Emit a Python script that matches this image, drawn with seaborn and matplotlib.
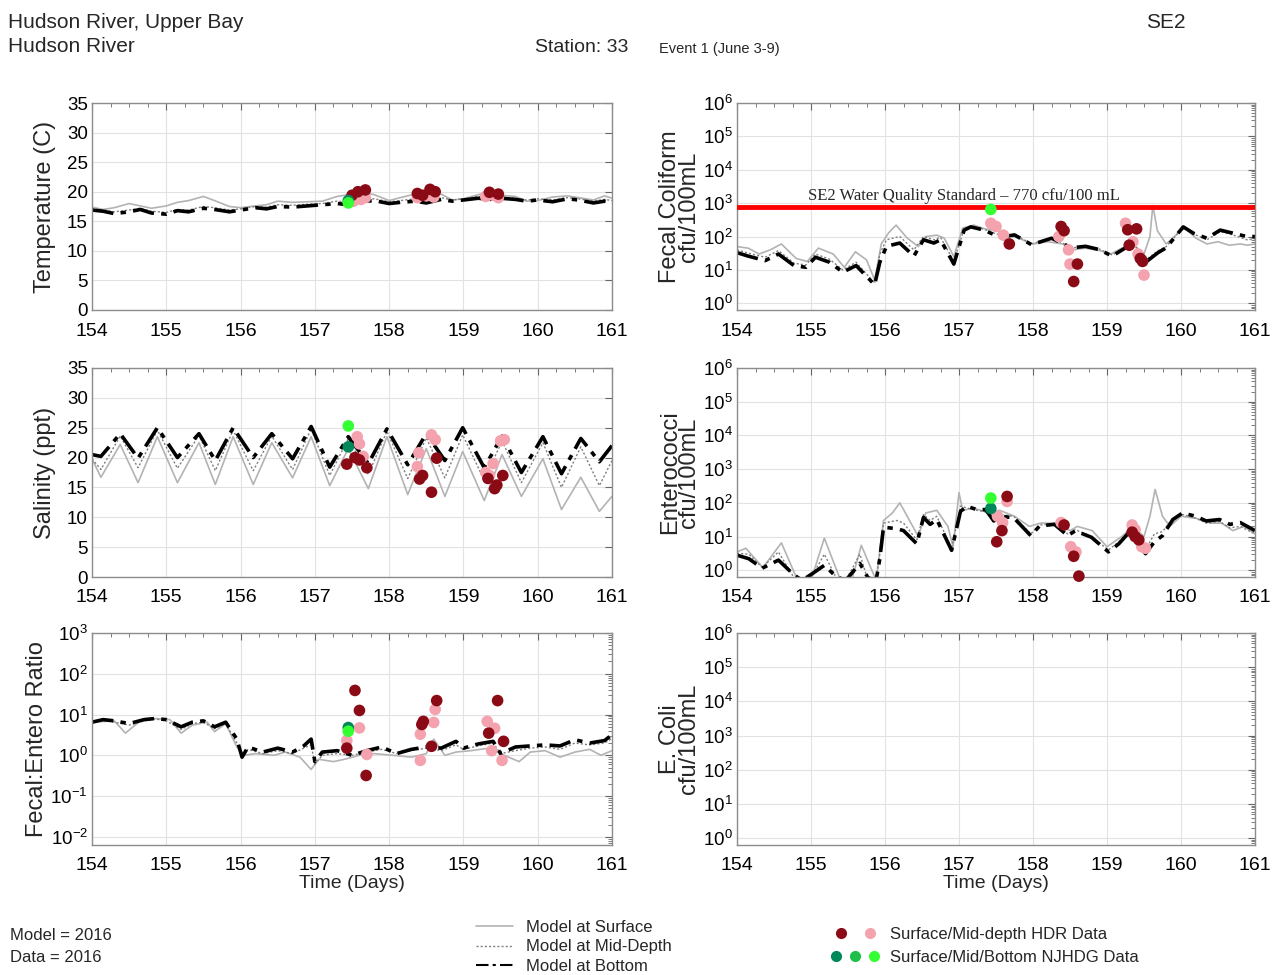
import numpy as np
import pandas as pd
import matplotlib
matplotlib.use("Agg")
import matplotlib.pyplot as plt
import seaborn as sns
from matplotlib.lines import Line2D
from matplotlib.legend_handler import HandlerTuple
from matplotlib.ticker import MultipleLocator, LogLocator, NullFormatter

# ---------------- model output: temperature ----------------
t_temp = [154.0, 154.15, 154.3, 154.5, 154.65, 154.8, 155.0, 155.15, 155.3, 155.5, 155.65, 155.85,
          156.0, 156.2, 156.35, 156.5, 156.7, 156.9, 157.1, 157.3, 157.45, 157.6, 157.8, 158.0,
          158.15, 158.35, 158.5, 158.7, 158.85, 159.0, 159.2, 159.35, 159.5, 159.7, 159.85, 160.0,
          160.2, 160.4, 160.55, 160.75, 160.9, 161.0]
temp_surf = [17.4, 17.0, 17.3, 18.0, 17.6, 17.2, 17.6, 18.2, 18.5, 19.2, 18.5, 17.5,
             17.3, 17.6, 17.8, 18.4, 18.2, 18.3, 18.4, 19.2, 19.5, 20.0, 19.5, 18.5,
             19.0, 19.6, 20.0, 19.6, 18.6, 18.8, 19.5, 19.8, 19.4, 19.2, 18.4, 18.5,
             19.1, 19.3, 19.0, 18.6, 19.3, 18.9]
temp_mid = [17.1, 16.9, 16.6, 16.9, 17.2, 16.7, 16.5, 17.0, 16.9, 17.5, 17.3, 16.9,
            17.1, 17.5, 17.4, 17.8, 17.7, 17.9, 18.0, 18.4, 18.2, 18.6, 18.8, 18.3,
            18.5, 18.8, 18.4, 19.0, 18.6, 18.8, 19.2, 19.0, 19.1, 18.9, 18.6, 18.8,
            18.6, 19.0, 18.8, 18.4, 18.7, 18.5]
temp_bot = [16.9, 16.7, 16.3, 16.6, 17.0, 16.4, 16.2, 16.8, 16.6, 17.2, 17.0, 16.6,
            16.9, 17.3, 17.1, 17.5, 17.4, 17.6, 17.8, 18.0, 17.8, 18.3, 18.5, 18.0,
            18.2, 18.4, 18.1, 18.7, 18.4, 18.6, 18.9, 18.7, 18.9, 18.7, 18.4, 18.6,
            18.3, 18.8, 18.6, 18.1, 18.4, 18.2]

# ---------------- model output: salinity ----------------
t_sal = [154.0, 154.12, 154.38, 154.62, 154.88, 155.15, 155.44, 155.66, 155.9, 156.17, 156.42,
         156.7, 156.95, 157.2, 157.45, 157.72, 157.97, 158.25, 158.5, 158.75, 158.99, 159.28,
         159.52, 159.78, 160.07, 160.32, 160.58, 160.83, 161.0]
sal_surf = [19.8, 16.7, 22.2, 15.8, 23.5, 15.8, 22.5, 15.5, 23.5, 15.5, 22.5, 16.6, 23.5, 15.3,
            21.5, 14.8, 23.5, 13.8, 21.5, 13.5, 21.0, 12.8, 20.5, 13.5, 19.8, 11.3, 16.7, 11.0, 13.5]
sal_mid = [19.8, 18.0, 23.6, 18.3, 24.6, 18.2, 23.7, 17.8, 24.6, 17.8, 23.6, 18.0, 24.8, 17.0,
           23.2, 17.2, 24.4, 16.5, 23.3, 16.6, 23.8, 16.2, 22.8, 15.8, 22.5, 15.0, 21.8, 15.3, 19.5]
sal_bot = [20.5, 20.2, 24.0, 19.9, 25.0, 20.0, 24.0, 19.5, 25.0, 20.0, 24.0, 19.8, 25.2, 18.4,
           23.5, 19.0, 24.8, 18.8, 24.0, 19.5, 25.0, 18.3, 23.6, 17.5, 23.5, 17.3, 23.2, 19.3, 22.0]

# ---------------- model output: fecal coliform ----------------
t_fc_surf = [154.0, 154.15, 154.3, 154.45, 154.6, 154.8, 154.95, 155.1, 155.3, 155.45, 155.6, 155.75,
             155.86, 155.95, 156.05, 156.15, 156.3, 156.45, 156.55, 156.7, 156.8, 156.93, 157.05,
             157.2, 157.35, 157.5, 157.65, 157.8, 158.0, 158.2, 158.4, 158.55, 158.7, 158.9, 159.05,
             159.2, 159.35, 159.5, 159.58, 159.62, 159.68, 159.8, 159.95, 160.05, 160.2, 160.35,
             160.5, 160.65, 160.8, 160.9, 161.0]
fc_surf = [50, 45, 30, 40, 60, 22, 18, 45, 30, 12, 35, 20, 5, 60, 130, 220, 90, 50, 100, 110,
           90, 25, 180, 220, 170, 150, 110, 90, 60, 70, 60, 40, 45, 38, 30, 45, 55, 30, 100, 850,
           150, 60, 120, 180, 90, 60, 70, 55, 60, 55, 60]
t_fc = [154.0, 154.15, 154.38, 154.56, 154.77, 154.93, 155.06, 155.25, 155.43, 155.61, 155.86,
        155.93, 156.02, 156.2, 156.39, 156.52, 156.66, 156.75, 156.93, 157.07, 157.16, 157.34,
        157.48, 157.61, 157.75, 157.98, 158.25, 158.39, 158.52, 158.71, 158.89, 159.07, 159.25,
        159.37, 159.55, 159.69, 159.8, 160.03, 160.17, 160.35, 160.53, 160.71, 160.89, 161.0]
fc_mid = [40, 32, 24, 38, 16, 14, 30, 21, 10, 17, 4, 30, 80, 100, 40, 100, 80, 95, 18, 170,
          205, 165, 125, 105, 115, 60, 90, 66, 45, 52, 43, 28, 48, 55, 22, 38, 50, 190, 120, 80,
          140, 110, 80, 85]
fc_bot = [33, 26, 19, 30, 13.5, 12, 24, 17, 8.6, 13.5, 3.6, 17, 51, 64, 26, 80, 64, 80, 15, 156,
          195, 156, 112, 100, 112, 57, 89, 64, 46, 51, 41, 26, 46, 57, 19, 33, 46, 195, 125, 89,
          156, 125, 100, 100]

# ---------------- model output: enterococci ----------------
t_en_surf = [154.0, 154.12, 154.35, 154.6, 154.82, 155.0, 155.18, 155.4, 155.55, 155.68, 155.88,
             155.98, 156.1, 156.2, 156.3, 156.45, 156.55, 156.7, 156.85, 156.92, 157.0, 157.05,
             157.2, 157.4, 157.55, 157.75, 157.95, 158.1, 158.3, 158.5, 158.6, 158.8, 159.0,
             159.2, 159.35, 159.5, 159.58, 159.65, 159.75, 159.85, 160.0, 160.2, 160.4, 160.55,
             160.7, 160.85, 161.0]
en_surf = [3.5, 4.5, 1.2, 6.5, 0.5, 0.5, 9, 0.5, 0.5, 5.5, 0.5, 30, 50, 100, 40, 10, 50, 60, 20,
           5, 200, 60, 70, 50, 60, 40, 20, 25, 25, 15, 20, 15, 5, 10, 20, 10, 40, 250, 40, 20,
           40, 35, 25, 25, 15, 20, 12]
t_en = [154.0, 154.16, 154.34, 154.56, 154.77, 154.88, 155.02, 155.18, 155.34, 155.47, 155.66,
        155.77, 155.88, 155.93, 155.98, 156.16, 156.25, 156.43, 156.52, 156.61, 156.7, 156.9,
        157.02, 157.11, 157.24, 157.36, 157.47, 157.56, 157.74, 157.97, 158.09, 158.29, 158.47,
        158.57, 158.79, 159.02, 159.16, 159.32, 159.52, 159.64, 159.75, 159.89, 160.02, 160.2,
        160.34, 160.52, 160.66, 160.8, 161.0]
en_mid = [3.2, 3.0, 1.2, 3.5, 0.6, 0.5, 0.7, 3.0, 0.6, 0.5, 3.0, 0.5, 0.5, 3.0, 25, 30, 25, 8,
          45, 30, 40, 4.5, 80, 70, 60, 55, 35, 45, 40, 12, 22, 24, 12, 16, 10, 4.0, 7, 16, 4.0,
          12, 14, 35, 45, 35, 25, 28, 18, 20, 12]
en_bot = [2.8, 2.2, 1.15, 2.0, 0.73, 0.5, 0.8, 1.4, 0.65, 0.5, 1.6, 0.6, 0.5, 2.2, 19, 17, 15,
          6.1, 37, 23, 32, 3.9, 56, 79, 63, 63, 29, 40, 36, 10.6, 20.7, 23, 10.6, 14.8, 9.5, 3.5,
          6.1, 15, 3.1, 7, 10.6, 32, 50, 40, 29, 32, 23, 26, 15]

# ---------------- model output: fecal:entero ratio ----------------
t_fr_surf = [154.0, 154.3, 154.45, 154.65, 154.85, 155.05, 155.2, 155.35, 155.55, 155.65, 155.8,
             155.95, 156.05, 156.2, 156.45, 156.6, 156.8, 156.95, 157.05, 157.25, 157.4, 157.6,
             157.8, 158.05, 158.3, 158.5, 158.6, 158.75, 158.9, 159.1, 159.35, 159.55, 159.75,
             159.9, 160.1, 160.3, 160.5, 160.7, 160.85, 161.0]
fr_surf = [6.5, 7.0, 3.5, 7.0, 8.0, 7.5, 3.5, 5.5, 6.5, 3.8, 6.0, 1.6, 1.0, 1.1, 1.0, 1.2, 0.9,
           0.45, 0.8, 0.7, 0.8, 1.0, 1.1, 1.0, 0.9, 1.1, 2.5, 1.0, 1.2, 1.3, 1.5, 1.0, 0.7, 1.2,
           1.3, 0.9, 1.2, 1.4, 1.0, 1.3]
t_fr = [154.0, 154.15, 154.3, 154.5, 154.7, 154.85, 155.0, 155.2, 155.35, 155.5, 155.65, 155.8,
        155.95, 156.02, 156.1, 156.3, 156.5, 156.7, 156.85, 156.95, 157.0, 157.1, 157.3, 157.5,
        157.7, 157.9, 158.1, 158.3, 158.5, 158.7, 158.9, 159.0, 159.2, 159.4, 159.5, 159.7,
        159.9, 160.1, 160.3, 160.5, 160.7, 160.9, 161.0]
fr_mid = [6.3, 7.2, 6.5, 5.5, 7.0, 7.8, 7.0, 4.3, 6.0, 6.5, 4.5, 6.0, 2.0, 0.9, 1.4, 1.1, 1.3,
          1.1, 1.5, 1.8, 0.6, 1.0, 1.1, 1.0, 1.2, 1.4, 1.1, 1.3, 1.5, 1.3, 1.8, 1.4, 1.7, 2.0,
          1.1, 1.3, 1.5, 1.6, 1.4, 2.0, 1.8, 2.0, 2.6]
fr_bot = [6.5, 7.5, 7.0, 6.0, 7.5, 8.0, 7.5, 5.0, 6.5, 7.0, 5.0, 6.5, 2.5, 0.9, 1.6, 1.2, 1.5,
          1.2, 1.7, 2.5, 0.7, 1.2, 1.3, 1.0, 1.3, 1.6, 1.1, 1.4, 1.6, 1.5, 2.2, 1.5, 1.9, 2.2,
          1.1, 1.6, 1.7, 1.8, 1.7, 2.4, 2.0, 2.3, 3.2]

# ---------------- observations ----------------
HS, HM, NS, NM, NB = "HDR surface", "HDR mid", "NJHDG surface", "NJHDG mid", "NJHDG bottom"

temp_obs_t = [157.5, 157.58, 157.68, 158.38, 158.45, 158.55, 158.62, 159.35, 159.47,
              157.52, 157.62, 157.68, 158.38, 158.5, 158.6, 159.3, 159.4, 159.47, 157.45, 157.45]
temp_obs_v = [19.4, 20.0, 20.3, 19.7, 19.4, 20.4, 20.0, 19.9, 19.6,
              18.4, 18.7, 19.0, 19.0, 19.3, 19.1, 19.2, 19.4, 19.0, 18.5, 18.1]
temp_obs_g = [HS] * 9 + [HM] * 9 + [NS, NB]

sal_obs_t = [157.43, 157.54, 157.6, 157.7, 158.41, 158.45, 158.57, 158.64, 159.33, 159.42, 159.45,
             159.53, 157.57, 157.6, 157.65, 158.4, 158.38, 158.57, 158.62, 159.3, 159.4, 159.35,
             159.55, 159.5, 157.45, 157.45]
sal_obs_v = [18.9, 20.0, 19.6, 18.3, 16.4, 17.0, 14.2, 19.9, 16.5, 14.8, 15.4,
             17.0, 23.5, 22.3, 20.2, 20.8, 18.5, 23.8, 23.0, 17.5, 19.0, 17.0,
             23.0, 22.8, 21.8, 25.3]
sal_obs_g = [HS] * 12 + [HM] * 12 + [NS, NB]

fc_obs_t = [157.68, 158.38, 158.42, 158.6, 158.55, 159.28, 159.4, 159.3, 159.45, 159.48,
            157.43, 157.5, 157.6, 158.35, 158.48, 158.5, 159.25, 159.35, 159.42, 159.5, 157.43]
fc_obs_v = [60, 200, 150, 15, 4.5, 160, 170, 55, 22, 18,
            250, 200, 110, 100, 40, 15, 250, 70, 30, 7, 650]
fc_obs_g = [HS] * 10 + [HM] * 10 + [NB]

en_obs_t = [157.65, 157.58, 157.51, 158.42, 158.55, 158.62, 159.34, 159.38, 159.43,
            157.65, 157.52, 157.59, 158.38, 158.51, 158.58, 159.34, 159.38, 159.47, 159.52,
            157.43, 157.43]
en_obs_v = [155, 15, 7, 22, 2.6, 0.67, 13.5, 10, 8,
            110, 40, 26, 26, 5, 3.5, 22, 16, 5, 4.5, 68, 139]
en_obs_g = [HS] * 9 + [HM] * 10 + [NS, NB]

fr_obs_t = [157.54, 157.6, 157.43, 157.69, 158.64, 158.46, 158.44, 158.57, 159.46, 159.34, 159.54,
            157.6, 157.7, 157.43, 158.62, 158.6, 158.42, 158.42, 159.32, 159.42, 159.38, 159.52,
            157.45, 157.45]
fr_obs_v = [39, 12.6, 1.5, 0.32, 22, 6.8, 5.7, 1.66, 22, 3.5, 2.2,
            4.7, 1.05, 2.3, 13.4, 6.4, 3.3, 0.75, 6.8, 4.6, 1.3, 0.75, 4.8, 3.9]
fr_obs_g = [HS] * 11 + [HM] * 11 + [NS, NB]

x_ticks = [154, 155, 156, 157, 158, 159, 160, 161]

# ---------------- style ----------------
sns.set_style("white")
plt.rcParams['font.family'] = ['Liberation Sans', 'DejaVu Sans']
plt.rcParams['mathtext.default'] = 'regular'

obs_colors = {HS: "#8a0a16", HM: "#f4a3ae", NS: "#00875a", NM: "#1fbf4a", NB: "#33ff33"}
surf_kw = dict(color="#b3b3b3", lw=1.2, linestyle="-")
mid_kw = dict(color="#7f7f7f", lw=1.0, linestyle=(0, (1.5, 1.5)))
bot_kw = dict(color="black", lw=2.6, linestyle=(0, (6, 2, 1.5, 2)))

fig = plt.figure(figsize=(12.82, 9.75), dpi=100)
W, H = 1282, 975


def make_ax(left, top, right, bottom):
    return fig.add_axes([left / W, 1 - bottom / H, (right - left) / W, (bottom - top) / H])


def style_ax(ax, log=False):
    ax.set_xlim(154, 161)
    ax.set_xticks(x_ticks)
    ax.xaxis.set_minor_locator(MultipleLocator(0.25))
    if log:
        ax.set_yscale('log')
        ax.yaxis.set_major_locator(LogLocator(base=10, numticks=12))
        ax.yaxis.set_minor_locator(LogLocator(base=10, subs=np.arange(2, 10), numticks=12))
        ax.yaxis.set_minor_formatter(NullFormatter())
    ax.grid(True, which='major', color="#e2e2e2", lw=0.8)
    ax.tick_params(which='both', direction='in', top=True, right=True, colors="#666666",
                   labelcolor="black")
    ax.tick_params(which='major', length=5)
    ax.tick_params(which='minor', length=3)
    ax.tick_params(axis='x', which='major', labelsize=14, pad=9)
    ax.tick_params(axis='y', which='major', labelsize=13.5, pad=3)
    for s in ax.spines.values():
        s.set_color("#8c8c8c")
        s.set_linewidth(1.0)
    ax.set_xlabel("")
    ax.set_ylabel("")


def draw_model(ax, ts, surf, tb, mid, bot):
    sns.lineplot(x=ts, y=surf, ax=ax, estimator=None, sort=False, **surf_kw)
    sns.lineplot(x=tb, y=mid, ax=ax, estimator=None, sort=False, **mid_kw)
    sns.lineplot(x=tb, y=bot, ax=ax, estimator=None, sort=False, **bot_kw)


def draw_obs(ax, t, v, g):
    df = pd.DataFrame({"t": t, "v": v, "g": g})
    order = [HM, HS, NS, NM, NB]
    df["o"] = df["g"].map({k: i for i, k in enumerate(order)})
    df = df.sort_values("o", kind="stable")
    sns.scatterplot(data=df, x="t", y="v", hue="g", palette=obs_colors, ax=ax, s=70,
                    linewidth=0, legend=False, zorder=5, clip_on=False)


LX0, LX1, RX0, RX1 = 92, 612, 737, 1255
rows = [(103, 310), (368, 577), (633, 845)]

# temperature
ax_t = make_ax(LX0, rows[0][0], LX1, rows[0][1])
draw_model(ax_t, t_temp, temp_surf, t_temp, temp_mid, temp_bot)
draw_obs(ax_t, temp_obs_t, temp_obs_v, temp_obs_g)
style_ax(ax_t)
ax_t.set_ylim(0, 35)
ax_t.set_yticks(range(0, 36, 5))
ax_t.set_ylabel("Temperature (C)", fontsize=17, labelpad=8)

# salinity
ax_s = make_ax(LX0, rows[1][0], LX1, rows[1][1])
draw_model(ax_s, t_sal, sal_surf, t_sal, sal_mid, sal_bot)
draw_obs(ax_s, sal_obs_t, sal_obs_v, sal_obs_g)
style_ax(ax_s)
ax_s.set_ylim(0, 35)
ax_s.set_yticks(range(0, 36, 5))
ax_s.set_ylabel("Salinity (ppt)", fontsize=17, labelpad=8)

# ratio
ax_r = make_ax(LX0, rows[2][0], LX1, rows[2][1])
draw_model(ax_r, t_fr_surf, fr_surf, t_fr, fr_mid, fr_bot)
draw_obs(ax_r, fr_obs_t, fr_obs_v, fr_obs_g)
style_ax(ax_r, log=True)
ax_r.set_ylim(10 ** -2.2, 1e3)
ax_r.set_ylabel("Fecal:Entero Ratio", fontsize=17, labelpad=2)
ax_r.set_xlabel("Time (Days)", fontsize=14, labelpad=0)

# fecal coliform
ax_f = make_ax(RX0, rows[0][0], RX1, rows[0][1])
draw_model(ax_f, t_fc_surf, fc_surf, t_fc, fc_mid, fc_bot)
ax_f.axhline(770, color="#ff0000", lw=3.5, zorder=4)
draw_obs(ax_f, fc_obs_t, fc_obs_v, fc_obs_g)
style_ax(ax_f, log=True)
ax_f.set_ylim(10 ** -0.2, 1e6)
ax_f.text(157.07, 1650, "SE2 Water Quality Standard \u2013 770 cfu/100 mL", ha="center",
          va="center", fontsize=12, family="Liberation Serif", zorder=6)
ax_f.set_ylabel("Fecal Coliform\ncfu/100mL", fontsize=17, labelpad=2, linespacing=0.85)

# enterococci
ax_e = make_ax(RX0, rows[1][0], RX1, rows[1][1])
draw_model(ax_e, t_en_surf, en_surf, t_en, en_mid, en_bot)
draw_obs(ax_e, en_obs_t, en_obs_v, en_obs_g)
style_ax(ax_e, log=True)
ax_e.set_ylim(10 ** -0.2, 1e6)
ax_e.set_ylabel("Enterococci\ncfu/100mL", fontsize=17, labelpad=2, linespacing=0.85)

# e. coli (no data)
ax_c = make_ax(RX0, rows[2][0], RX1, rows[2][1])
style_ax(ax_c, log=True)
ax_c.set_ylim(10 ** -0.2, 1e6)
ax_c.set_ylabel("E. Coli\ncfu/100mL", fontsize=17, labelpad=2, linespacing=0.85)
ax_c.set_xlabel("Time (Days)", fontsize=14, labelpad=0)

# ---------------- header text ----------------
fig.text(8 / W, 1 - 22 / H, "Hudson River, Upper Bay", fontsize=15, va="center")
fig.text(8 / W, 1 - 46 / H, "Hudson River", fontsize=15, va="center")
fig.text(582 / W, 1 - 47 / H, "Station: 33", fontsize=14, va="center", ha="center")
fig.text(659 / W, 1 - 49 / H, "Event 1 (June 3-9)", fontsize=10.5, va="center")
fig.text(1166 / W, 1 - 22 / H, "SE2", fontsize=15, va="center", ha="center")

fig.text(10 / W, 1 - 935 / H, "Model = 2016", fontsize=12, va="center")
fig.text(10 / W, 1 - 958 / H, "Data = 2016", fontsize=12, va="center")

# ---------------- legends ----------------
line_handles = [Line2D([], [], **surf_kw), Line2D([], [], **mid_kw),
                Line2D([], [], color="black", lw=1.5, linestyle=(0, (6, 2, 1.5, 2)))]
fig.legend(line_handles, ["Model at Surface", "Model at Mid-Depth", "Model at Bottom"],
           loc="center left", bbox_to_anchor=(468 / W, 1 - 947 / H), frameon=False,
           fontsize=12, handlelength=2.2, handletextpad=0.8, labelspacing=0.25, borderpad=0)


def dot(c):
    return Line2D([], [], marker="o", color=c, linestyle="none", markersize=7)


fig.legend([(dot(obs_colors[HS]), dot(obs_colors[HM])),
            (dot(obs_colors[NS]), dot(obs_colors[NM]), dot(obs_colors[NB]))],
           ["Surface/Mid-depth HDR Data", "Surface/Mid/Bottom NJHDG Data"],
           handler_map={tuple: HandlerTuple(ndivide=None, pad=0.4)},
           loc="center left", bbox_to_anchor=(822 / W, 1 - 946 / H), frameon=False,
           fontsize=12, handlelength=3.0, handletextpad=0.6, labelspacing=0.5, borderpad=0)

fig.savefig("out.png", dpi=100)
